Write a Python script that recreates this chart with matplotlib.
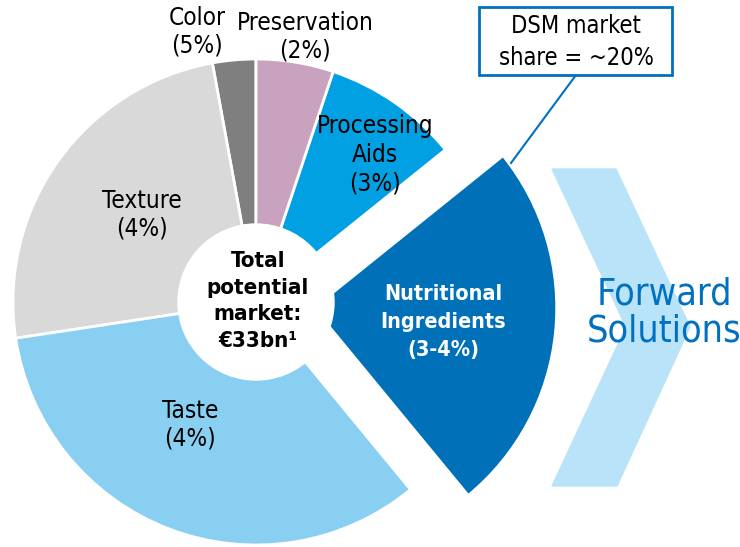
import matplotlib.pyplot as plt
from matplotlib.patches import Circle, Polygon, Rectangle

# market segments (EUR bn), counter-clockwise from 12 o'clock
segments = ["Color", "Texture", "Taste", "Nutritional", "Processing Aids", "Preservation"]
values = [0.95, 8.1, 11.1, 8.2, 3.0, 1.7]
growth = ["(5%)", "(4%)", "(4%)", "(3-4%)", "(3%)", "(2%)"]
colors = ["#7f7f7f", "#d9d9d9", "#89cff2", "#0070b9", "#00a0e2", "#c8a2bf"]
explode = [0, 0, 0, 58, 0, 0]

H = 547


def Y(y):
    return H - y


plt.rcParams["font.family"] = "DejaVu Sans"
plt.rcParams["font.stretch"] = "condensed"

fig = plt.figure(figsize=(7.4, 5.47), dpi=100)
ax = fig.add_axes([0, 0, 1, 1])

# chevron behind
chev = Polygon([(552, Y(169)), (616, Y(169)), (690, Y(327)), (617, Y(486)),
                (552, Y(486)), (626, Y(327))], closed=True, color="#b9e3f8", zorder=0)
ax.add_patch(chev)

cx, cy = 256, Y(302)
ax.pie(values, colors=colors, startangle=90, counterclock=True, explode=explode,
       radius=243, center=(cx, cy), frame=True,
       wedgeprops=dict(edgecolor="white", linewidth=2))
ax.set_xlim(0, 740)
ax.set_ylim(0, H)
ax.set_aspect("equal")
ax.axis("off")
ax.add_patch(Circle((cx, cy), 78, color="white", zorder=5))

fs = 17.5
ax.text(197, Y(32), "Color\n" + growth[0], ha="center", va="center", fontsize=fs, linespacing=1.2)
ax.text(305, Y(37), "Preservation\n" + growth[5], ha="center", va="center", fontsize=fs, linespacing=1.2)
ax.text(375, Y(155), "Processing\nAids\n" + growth[4], ha="center", va="center", fontsize=fs, linespacing=1.25)
ax.text(142, Y(215), "Texture\n" + growth[1], ha="center", va="center", fontsize=fs, linespacing=1.2)
ax.text(190, Y(425), "Taste\n" + growth[2], ha="center", va="center", fontsize=fs, linespacing=1.2)
ax.text(443, Y(322), "Nutritional\nIngredients\n" + growth[3], ha="center", va="center",
        fontsize=15.5, color="white", fontweight="bold", linespacing=1.5, zorder=6)
ax.text(258, Y(301), "Total\npotential\nmarket:\n€33bn\u00b9", ha="center", va="center",
        fontsize=16, fontweight="bold", linespacing=1.4, zorder=6)

# callout box
ax.plot([576, 511], [Y(75), Y(163)], color="#0070c0", lw=1.5, zorder=6)
ax.add_patch(Rectangle((479, Y(75)), 193, 68, facecolor="white",
                       edgecolor="#0070c0", lw=2, zorder=7))
ax.text(576, Y(42), "DSM market\nshare = ~20%", ha="center", va="center",
        fontsize=17, linespacing=1.4, zorder=8)

ax.text(664, Y(313), "Forward\nSolutions", ha="center", va="center",
        fontsize=27, color="#0070c0", linespacing=1.05, zorder=3)

fig.savefig("out.png", dpi=100)
